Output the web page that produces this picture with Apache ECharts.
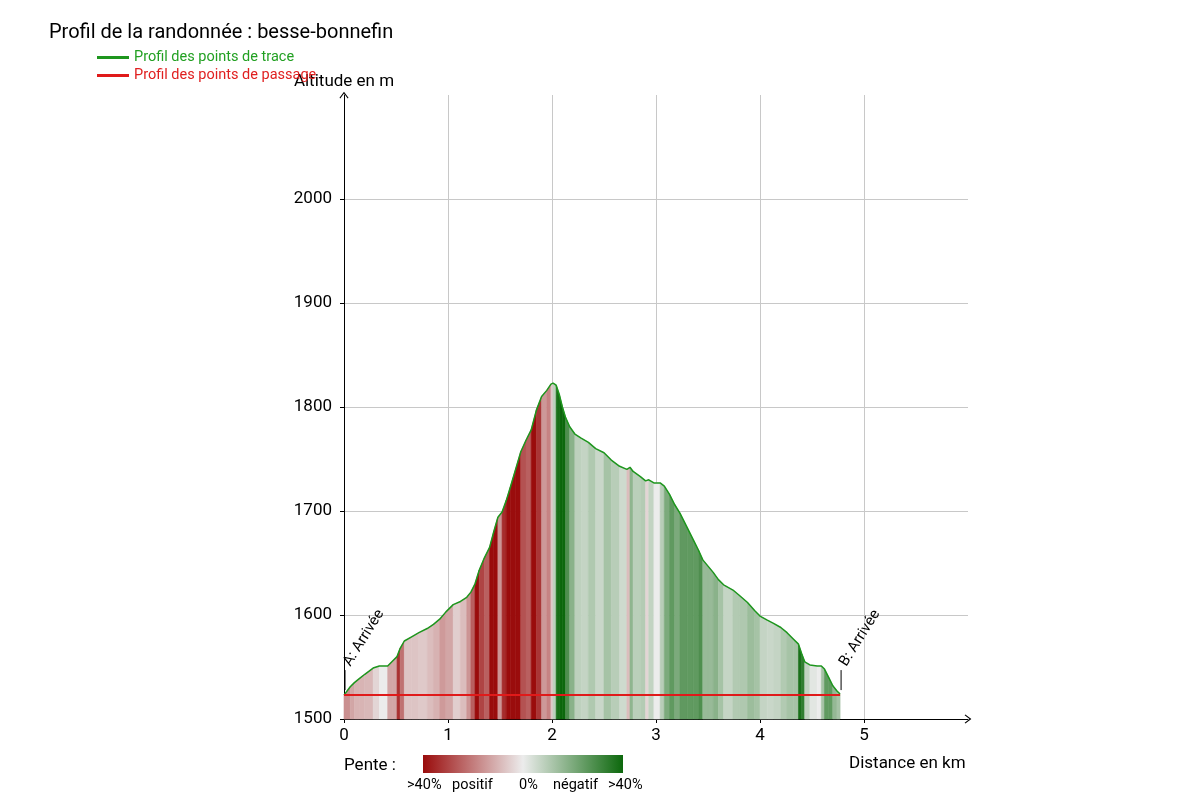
<!DOCTYPE html>
<html>
<head>
<meta charset="utf-8">
<script src="https://cdn.jsdelivr.net/npm/echarts@6/dist/echarts.min.js"></script>
<style>html,body{margin:0;padding:0;background:#fff;}#c{width:1192px;height:807px;}</style>
</head>
<body>
<div id="c"></div>
<script>
// Profile of the track (distance in km, altitude in m)
var distances = [0.00,0.06,0.10,0.15,0.20,0.28,0.34,0.42,0.47,0.51,0.54,0.58,0.65,0.72,0.80,0.86,0.92,0.98,1.05,1.12,1.18,1.22,1.26,1.30,1.35,1.40,1.44,1.48,1.52,1.56,1.60,1.65,1.70,1.75,1.80,1.85,1.90,1.95,1.99,2.01,2.04,2.07,2.10,2.13,2.17,2.22,2.28,2.35,2.42,2.50,2.57,2.65,2.72,2.75,2.78,2.85,2.90,2.93,2.98,3.04,3.08,3.13,3.18,3.23,3.30,3.36,3.41,3.45,3.50,3.55,3.60,3.65,3.74,3.80,3.88,3.95,4.00,4.07,4.13,4.20,4.26,4.32,4.37,4.40,4.43,4.48,4.55,4.59,4.62,4.66,4.70,4.74,4.77];
var altitudes = [1523,1531,1535,1539,1543,1549,1551,1551,1556,1560,1568,1575,1579,1583,1587,1591,1596,1603,1610,1613,1617,1622,1630,1643,1655,1665,1680,1694,1699,1710,1723,1740,1757,1768,1778,1797,1810,1816,1822,1823,1821,1812,1800,1790,1781,1774,1770,1766,1760,1756,1749,1743,1740,1742,1738,1733,1729,1730,1727,1727,1724,1716,1706,1698,1684,1672,1662,1653,1647,1641,1634,1629,1624,1619,1612,1604,1599,1595,1592,1588,1583,1577,1572,1563,1555,1552,1551,1551,1548,1540,1532,1527,1524];
// Waypoints (points de passage)
var waypointNames = ['A: Arrivée','B: Arrivée'];
var waypointDistances = [0, 4.77];
var waypointAltitudes = [1523, 1523];
// Axes
var xTicks = [0,1,2,3,4,5];
var yTicks = [1500,1600,1700,1800,1900,2000];
var slopeLegendLabels = ['>40%','positif','0%','négatif','>40%'];

var RED = [154,12,12], MID = [236,236,236], GREEN = [12,104,12];
function mix(a,b,t){return 'rgb('+a.map(function(v,i){return Math.round(v+(b[i]-v)*t);}).join(',')+')';}
function slopeColor(p){var t=Math.min(1,Math.abs(p)/32);return p>=0?mix(MID,RED,t):mix(MID,GREEN,t);}

var profile = distances.map(function(d,i){return [d, altitudes[i]];});
var segments = [];
for (var i=0;i<distances.length-1;i++){
  var slope = (altitudes[i+1]-altitudes[i])/((distances[i+1]-distances[i])*1000)*100;
  segments.push([distances[i], altitudes[i], distances[i+1], altitudes[i+1], slope]);
}
var waypoints = waypointDistances.map(function(d,i){return [d, waypointAltitudes[i], waypointNames[i]];});

var chart = echarts.init(document.getElementById('c'));
var FONT = 'Roboto';
var gridColors = ['#c8c8c8','#c8c8c8','#c8c8c8','#c8c8c8','#c8c8c8','#c8c8c8','rgba(0,0,0,0)'];
var arrow = 'path://M0,0 L6,8 L5,9 L0,2.5 L-5,9 L-6,8 Z';

chart.setOption({
  animation: false,
  textStyle: {fontFamily: FONT},
  title: {
    text: 'Profil de la randonnée : besse-bonnefin',
    left: 49, top: 23, padding: 0,
    textStyle: {fontSize: 20, fontWeight: 'normal', color: '#000', fontFamily: FONT}
  },
  legend: {
    orient: 'vertical', left: 97, top: 50, padding: 0, itemGap: 3,
    itemWidth: 32, itemHeight: 3, itemTextGap: 4, icon: 'rect',
    data: [
      {name: 'Profil des points de trace', textStyle: {color: '#22a022'}},
      {name: 'Profil des points de passage', textStyle: {color: '#e02020'}}
    ],
    textStyle: {fontSize: 14.5, fontFamily: FONT}
  },
  grid: {left: 344, right: 224, top: 95, bottom: 88, containLabel: false},
  xAxis: {
    type: 'value', min: 0, max: 6, interval: 1,
    axisLine: {lineStyle: {color: '#000', width: 1}, symbol: ['none', arrow], symbolSize: [9, 10]},
    axisTick: {show: true, length: 4, lineStyle: {color: '#000'}},
    axisLabel: {color: '#000', fontSize: 17, margin: 8, showMaxLabel: false, fontFamily: FONT,
      formatter: function(v){return String(v);}},
    splitLine: {show: true, lineStyle: {color: gridColors, width: 1}}
  },
  yAxis: {
    type: 'value', min: 1500, max: 2100, interval: 100,
    name: 'Altitude en m', nameLocation: 'end', nameGap: 5,
    nameTextStyle: {color: '#000', fontSize: 17, fontFamily: FONT},
    axisLine: {show: true, lineStyle: {color: '#000', width: 1}, symbol: ['none', arrow], symbolSize: [9, 10]},
    axisTick: {show: true, length: 4, lineStyle: {color: '#000'}},
    axisLabel: {color: '#000', fontSize: 17, margin: 12, showMaxLabel: false, fontFamily: FONT,
      formatter: function(v){return String(v);}},
    splitLine: {show: true, lineStyle: {color: gridColors, width: 1}}
  },
  series: [
    {
      type: 'custom', name: 'pente', silent: true, z: 1,
      data: segments,
      renderItem: function(params, api){
        var d0 = api.value(0), a0 = api.value(1), d1 = api.value(2), a1 = api.value(3), s = api.value(4);
        var p0 = api.coord([d0, 1500]), p1 = api.coord([d0, a0]), p2 = api.coord([d1, a1]), p3 = api.coord([d1, 1500]);
        var c = slopeColor(s);
        return {type: 'polygon', shape: {points: [p0,p1,p2,p3]}, style: {fill: c, stroke: c, lineWidth: 0.6}};
      }
    },
    {
      type: 'line', name: 'Profil des points de trace', data: profile, z: 3,
      symbol: 'none', color: '#1e961e',
      lineStyle: {color: '#1e961e', width: 1.5}
    },
    {
      type: 'line', name: 'Profil des points de passage',
      data: waypoints.map(function(w){return [w[0], w[1]];}), z: 4,
      symbol: 'none', color: '#e01a1a',
      lineStyle: {color: '#e01a1a', width: 2}
    },
    {
      type: 'custom', name: 'labels', silent: true, z: 5,
      data: waypoints,
      renderItem: function(params, api){
        var p = api.coord([api.value(0), api.value(1)]);
        var name = waypointNames[params.dataIndex];
        return {type: 'group', children: [
          {type: 'line', shape: {x1: p[0]+1, y1: p[1]-5, x2: p[0]+1, y2: p[1]-25}, style: {stroke: '#000', lineWidth: 1}},
          {type: 'text', x: p[0]+3, y: p[1]-30, rotation: Math.PI*0.322,
           style: {text: name, fill: '#000', font: '15px Roboto', textAlign: 'left', textVerticalAlign: 'middle'}}
        ]};
      }
    }
  ],
  graphic: [
    {type: 'text', left: 849, top: 755, style: {text: 'Distance en km', fill: '#000', font: '17px Roboto'}},
    {type: 'text', left: 344, top: 757, style: {text: 'Pente :', fill: '#000', font: '17px Roboto'}},
    {type: 'rect', shape: {x: 423, y: 755, width: 200, height: 18},
     style: {fill: new echarts.graphic.LinearGradient(0,0,1,0,[
       {offset: 0, color: 'rgb(154,12,12)'}, {offset: 0.5, color: 'rgb(236,236,236)'}, {offset: 1, color: 'rgb(12,104,12)'}
     ])}},
    {type: 'text', left: 407, top: 778, style: {text: slopeLegendLabels[0], fill: '#000', font: '14.5px Roboto'}},
    {type: 'text', left: 452, top: 778, style: {text: slopeLegendLabels[1], fill: '#000', font: '14.5px Roboto'}},
    {type: 'text', left: 519, top: 778, style: {text: slopeLegendLabels[2], fill: '#000', font: '14.5px Roboto'}},
    {type: 'text', left: 553, top: 778, style: {text: slopeLegendLabels[3], fill: '#000', font: '14.5px Roboto'}},
    {type: 'text', left: 608, top: 778, style: {text: slopeLegendLabels[4], fill: '#000', font: '14.5px Roboto'}}
  ]
});
</script>
</body>
</html>
